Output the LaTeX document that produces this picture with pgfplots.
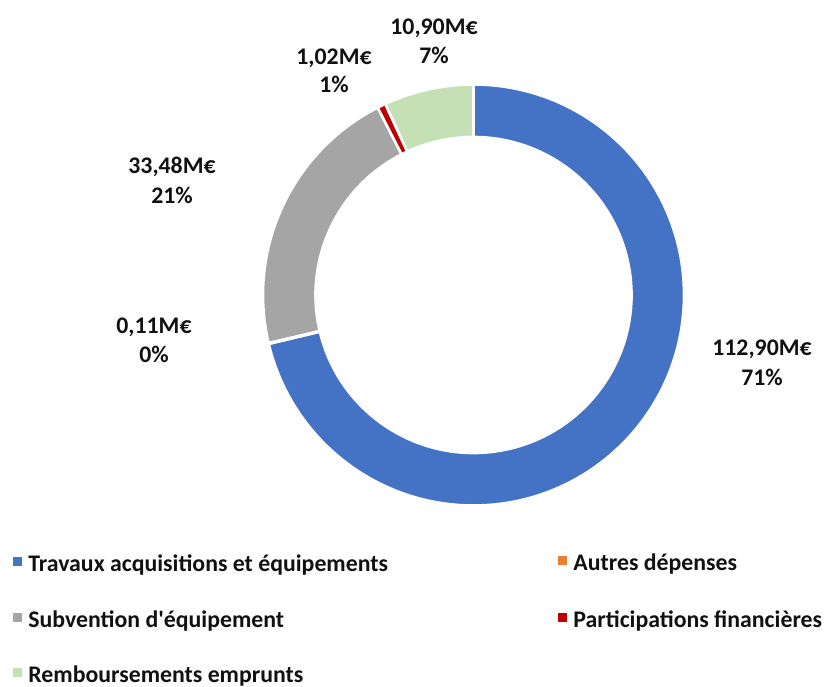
\documentclass[border=0pt]{standalone}
\usepackage{pgfplots}
\pgfplotsset{compat=1.18}
\usepackage{fontspec}
\setmainfont{Carlito}[Ligatures=TeXOff]
\definecolor{cBlue}{HTML}{4472C4}
\definecolor{cOrange}{HTML}{ED7D31}
\definecolor{cGray}{HTML}{A5A5A5}
\definecolor{cRed}{HTML}{C00000}
\definecolor{cGreen}{HTML}{C5E0B4}
\definecolor{txt}{HTML}{111111}
\newcommand\sector[3]{%
  \fill[#3,draw=white,line width=1.3pt] (axis cs:473.5,391) ++(#1:210.5)
    arc[start angle=#1,end angle=#2,radius=210.5] -- ++(#2:-52.5)
    arc[start angle=#2,end angle=#1,radius=158] -- cycle;}
\newcommand\lab[5]{%
  \node[anchor=base,text=txt,font=\fontsize{11.9}{14}\selectfont\bfseries] at (axis cs:#1,686-#2) {#4};
  \node[anchor=base,text=txt,font=\fontsize{11.9}{14}\selectfont\bfseries] at (axis cs:#1,686-#3) {#5};}
\newcommand\leg[4]{%
  \fill[#4] (axis cs:#1-15,686-#2+5) rectangle (axis cs:#1-6,686-#2+14);
  \node[anchor=base west,inner sep=0pt,text=txt,font=\fontsize{11.9}{14}\selectfont\bfseries] at (axis cs:#1,686-#2) {#3};}
\begin{document}
\begin{tikzpicture}
\pgfmathsetmacro{\tot}{112.90+0.11+33.48+1.02+10.90}
\pgfmathsetmacro{\aA}{90}
\pgfmathsetmacro{\aB}{\aA-112.90/\tot*360}
\pgfmathsetmacro{\aC}{\aB-0.11/\tot*360}
\pgfmathsetmacro{\aD}{\aC-33.48/\tot*360}
\pgfmathsetmacro{\aE}{\aD-1.02/\tot*360}
\pgfmathsetmacro{\aF}{\aE-10.90/\tot*360}
\begin{axis}[name=ax,width=414pt,height=343pt,scale only axis,hide axis,
  xmin=0,xmax=828,ymin=0,ymax=686,clip=false]
\addplot[draw=none] coordinates {(0,0) (828,686)};
\sector{\aA}{\aB}{cBlue}
\sector{\aB}{\aC}{cOrange}
\sector{\aC}{\aD}{cGray}
\sector{\aD}{\aE}{cRed}
\sector{\aE}{\aF}{cGreen}
\lab{762}{355}{385}{112,90M€}{71\%}
\lab{154}{333}{362}{0,11M€}{0\%}
\lab{172}{174}{204}{33,48M€}{21\%}
\lab{334}{65}{93}{1,02M€}{1\%}
\lab{434}{35}{64}{10,90M€}{7\%}
\leg{28}{571}{Travaux acquisitions et équipements}{cBlue}
\leg{28}{627}{Subvention d'équipement}{cGray}
\leg{28}{682}{Remboursements emprunts}{cGreen}
\leg{573}{570}{Autres dépenses}{cOrange}
\leg{573}{627}{Participations financières}{cRed}
\end{axis}
\pgfresetboundingbox
\path[use as bounding box] (ax.south west) rectangle (ax.north east);
\end{tikzpicture}
\end{document}
